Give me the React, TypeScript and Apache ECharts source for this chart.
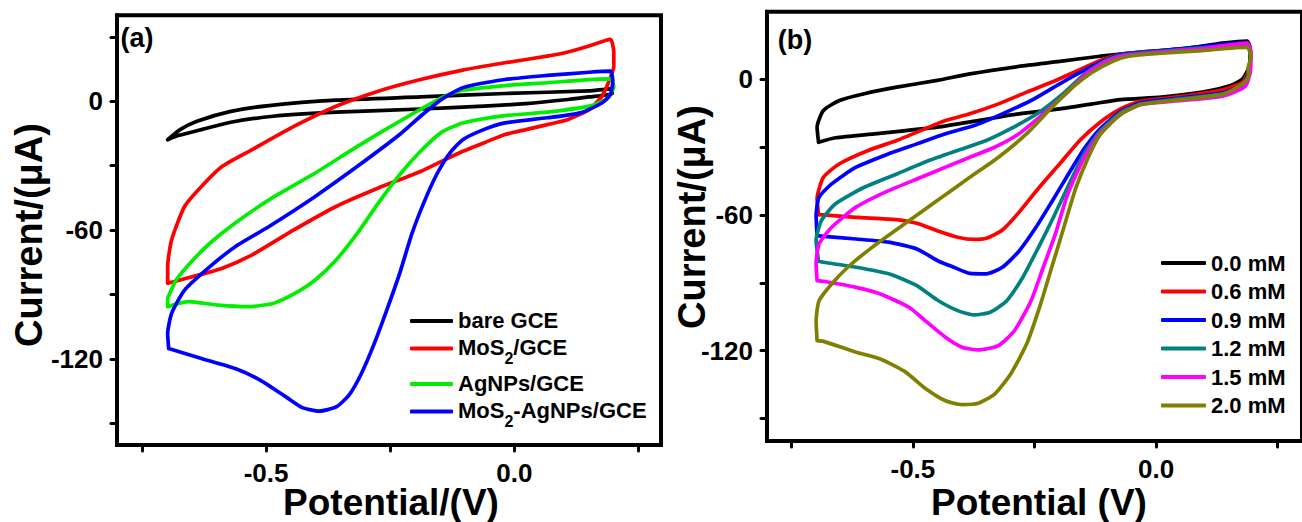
import React, { useEffect, useRef } from "react";
import * as echarts from "echarts";

type Pt = [number, number];

// ---------- Panel (a) data: potential (V), current (µA) ----------
const bareGCE: Pt[] = [
  [-0.698, -17.9], [-0.673, -13.2], [-0.639, -9.3], [-0.571, -4.7], [-0.494, -2.0],
  [-0.359, 0.5], [-0.189, 2.0], [-0.019, 3.6], [0.150, 4.8], [0.193, 5.8],
  [0.197, 3.6], [0.150, 2.0], [0.108, 0.8], [0.023, -1.1], [-0.062, -2.3],
  [-0.189, -3.6], [-0.359, -5.1], [-0.486, -7.0], [-0.571, -9.8], [-0.630, -13.2],
  [-0.681, -16.3], [-0.698, -17.9],
];
const mos2GCE: Pt[] = [
  [-0.698, -84.7], [-0.698, -77.0], [-0.690, -64.5], [-0.664, -49.0], [-0.630, -39.7],
  [-0.588, -30.3], [-0.528, -22.5], [-0.444, -11.7], [-0.359, -2.3], [-0.274, 4.7],
  [-0.189, 10.1], [-0.104, 14.5], [-0.019, 17.9], [0.066, 21.0], [0.108, 22.9],
  [0.150, 25.7], [0.193, 28.8], [0.200, 22.6], [0.200, 16.3], [0.189, 8.6],
  [0.176, 2.3], [0.150, -3.9], [0.108, -8.5], [0.066, -10.9], [0.023, -13.2],
  [-0.019, -15.5], [-0.062, -19.4], [-0.104, -23.3], [-0.147, -28.0], [-0.189, -32.7],
  [-0.274, -40.4], [-0.359, -49.0], [-0.444, -59.9], [-0.528, -71.5], [-0.588, -77.7],
  [-0.647, -81.6], [-0.698, -84.7],
];
const agnpsGCE: Pt[] = [
  [-0.698, -91.7], [-0.681, -83.2], [-0.647, -73.9], [-0.613, -66.1], [-0.562, -56.7],
  [-0.494, -45.9], [-0.401, -33.4], [-0.316, -21.0], [-0.231, -9.3], [-0.147, 1.6],
  [-0.104, 5.1], [-0.019, 7.3], [0.066, 8.6], [0.150, 10.1], [0.193, 10.4],
  [0.200, 6.7], [0.184, 0.8], [0.150, -2.3], [0.066, -5.1], [-0.019, -6.7],
  [-0.104, -10.1], [-0.147, -14.5], [-0.189, -23.3], [-0.231, -34.2], [-0.274, -47.4],
  [-0.316, -61.4], [-0.359, -73.9], [-0.401, -83.2], [-0.444, -89.7], [-0.486, -94.1],
  [-0.537, -95.6], [-0.596, -94.9], [-0.656, -93.3], [-0.698, -95.6], [-0.698, -91.7],
];
const mos2AgnpsGCE: Pt[] = [
  [-0.696, -115.1], [-0.698, -108.1], [-0.690, -98.7], [-0.664, -87.9], [-0.613, -77.0],
  [-0.562, -67.7], [-0.494, -58.3], [-0.401, -44.3], [-0.316, -30.3], [-0.231, -15.5],
  [-0.189, -7.0], [-0.147, 0.8], [-0.104, 6.3], [-0.019, 10.1], [0.066, 12.0],
  [0.150, 13.5], [0.193, 14.0], [0.198, 9.3], [0.193, 3.1], [0.176, -0.8],
  [0.133, -5.4], [0.066, -7.7], [-0.019, -10.1], [-0.062, -13.2], [-0.104, -17.9],
  [-0.130, -24.1], [-0.155, -33.4], [-0.180, -45.9], [-0.206, -61.4], [-0.231, -80.1],
  [-0.257, -97.2], [-0.282, -112.7], [-0.308, -126.7], [-0.333, -136.8], [-0.359, -142.3],
  [-0.393, -144.2], [-0.427, -142.6], [-0.460, -137.6], [-0.512, -129.8], [-0.562, -124.4],
  [-0.630, -119.7], [-0.696, -115.1],
];

// ---------- Panel (b) data ----------
const mM00: Pt[] = [
  [-0.694, -27.8], [-0.697, -21.1], [-0.684, -13.7], [-0.651, -9.3], [-0.600, -6.3],
  [-0.533, -3.4], [-0.450, -0.4], [-0.383, 2.5], [-0.282, 5.8], [-0.198, 8.0],
  [-0.115, 10.3], [-0.031, 12.1], [0.053, 13.6], [0.137, 16.1], [0.187, 17.0],
  [0.194, 12.8], [0.191, 5.5], [0.178, 0.3], [0.153, -2.7], [0.095, -5.6],
  [0.011, -7.8], [-0.073, -8.9], [-0.131, -10.8], [-0.198, -13.0], [-0.282, -15.2],
  [-0.366, -18.2], [-0.450, -21.1], [-0.575, -24.0], [-0.659, -25.8], [-0.694, -27.8],
];
const mM06: Pt[] = [
  [-0.694, -59.8], [-0.697, -52.8], [-0.684, -43.3], [-0.651, -37.3], [-0.592, -31.4],
  [-0.533, -27.0], [-0.467, -21.1], [-0.433, -18.2], [-0.383, -15.2], [-0.324, -10.8],
  [-0.266, -5.6], [-0.215, -1.2], [-0.157, 4.3], [-0.115, 8.4], [-0.073, 11.1],
  [0.011, 12.8], [0.095, 14.3], [0.187, 16.1], [0.194, 11.4], [0.191, 4.7],
  [0.178, -1.2], [0.137, -4.6], [0.053, -7.5], [-0.031, -9.6], [-0.073, -13.0],
  [-0.115, -18.9], [-0.157, -27.0], [-0.198, -37.3], [-0.240, -47.7], [-0.282, -58.8],
  [-0.316, -66.6], [-0.349, -70.3], [-0.374, -70.8], [-0.408, -69.8], [-0.450, -66.9],
  [-0.492, -63.6], [-0.533, -62.0], [-0.617, -61.0], [-0.684, -59.9], [-0.694, -59.8],
];
const mM09: Pt[] = [
  [-0.697, -69.1], [-0.699, -60.2], [-0.693, -52.1], [-0.667, -46.2], [-0.617, -38.8],
  [-0.550, -32.9], [-0.492, -28.5], [-0.433, -24.0], [-0.374, -20.4], [-0.316, -15.2],
  [-0.257, -9.3], [-0.198, -1.9], [-0.148, 4.0], [-0.106, 8.4], [-0.073, 11.1],
  [0.011, 12.8], [0.095, 14.6], [0.187, 16.3], [0.194, 10.6], [0.191, 3.2],
  [0.178, -2.2], [0.137, -5.9], [0.053, -8.1], [-0.031, -10.3], [-0.073, -14.2],
  [-0.115, -21.8], [-0.148, -30.7], [-0.182, -42.5], [-0.215, -54.3], [-0.249, -66.1],
  [-0.282, -76.0], [-0.316, -83.1], [-0.349, -86.0], [-0.383, -85.8], [-0.416, -83.1],
  [-0.450, -80.1], [-0.492, -75.0], [-0.550, -72.0], [-0.617, -70.6], [-0.684, -69.4],
  [-0.697, -69.1],
];
const mM12: Pt[] = [
  [-0.694, -80.4], [-0.699, -71.3], [-0.688, -62.4], [-0.659, -55.0], [-0.600, -47.7],
  [-0.533, -41.8], [-0.467, -35.9], [-0.408, -31.4], [-0.349, -27.0], [-0.299, -21.8],
  [-0.240, -14.5], [-0.190, -6.1], [-0.148, 2.2], [-0.106, 8.1], [-0.073, 10.6],
  [0.011, 12.5], [0.095, 14.0], [0.187, 15.5], [0.194, 10.6], [0.191, 2.8],
  [0.178, -3.1], [0.137, -6.3], [0.053, -8.5], [-0.031, -10.8], [-0.073, -14.7],
  [-0.115, -22.9], [-0.148, -32.9], [-0.182, -47.7], [-0.211, -61.0], [-0.240, -73.5],
  [-0.274, -87.5], [-0.307, -97.9], [-0.341, -103.0], [-0.374, -104.2], [-0.408, -102.3],
  [-0.450, -97.6], [-0.492, -91.2], [-0.550, -86.0], [-0.617, -83.1], [-0.684, -80.9],
  [-0.694, -80.4],
];
const mM15: Pt[] = [
  [-0.697, -89.0], [-0.699, -81.6], [-0.693, -72.8], [-0.667, -65.4], [-0.617, -56.5],
  [-0.550, -49.2], [-0.483, -43.3], [-0.433, -38.8], [-0.383, -34.4], [-0.332, -30.0],
  [-0.282, -24.0], [-0.232, -15.2], [-0.182, -5.6], [-0.140, 3.2], [-0.098, 8.4],
  [-0.064, 10.6], [0.011, 12.1], [0.095, 13.6], [0.187, 16.1], [0.195, 11.4],
  [0.194, 3.7], [0.183, -3.1], [0.137, -7.4], [0.053, -9.3], [-0.031, -11.1],
  [-0.073, -15.5], [-0.115, -23.8], [-0.148, -34.7], [-0.182, -50.9], [-0.207, -68.3],
  [-0.232, -83.1], [-0.257, -97.9], [-0.291, -111.1], [-0.324, -117.8], [-0.366, -119.7],
  [-0.399, -118.5], [-0.433, -114.1], [-0.475, -106.7], [-0.508, -100.8], [-0.567, -94.9],
  [-0.617, -92.0], [-0.684, -89.3], [-0.697, -89.0],
];
const mM20: Pt[] = [
  [-0.697, -115.6], [-0.699, -107.0], [-0.693, -97.9], [-0.667, -90.5], [-0.634, -83.1],
  [-0.584, -74.3], [-0.517, -63.9], [-0.450, -53.6], [-0.383, -43.3], [-0.324, -34.4],
  [-0.266, -24.0], [-0.215, -12.5], [-0.173, -3.7], [-0.131, 3.2], [-0.089, 8.1],
  [-0.056, 10.3], [0.011, 11.6], [0.095, 12.8], [0.187, 14.3], [0.195, 9.9],
  [0.189, 4.7], [0.191, 1.8], [0.178, -1.9], [0.137, -6.6], [0.053, -8.9],
  [-0.031, -11.1], [-0.073, -15.5], [-0.115, -24.4], [-0.140, -34.7], [-0.165, -48.0],
  [-0.190, -65.7], [-0.215, -83.4], [-0.240, -101.1], [-0.266, -117.0], [-0.299, -130.3],
  [-0.332, -139.2], [-0.366, -143.3], [-0.399, -143.9], [-0.433, -142.2], [-0.475, -136.6],
  [-0.517, -129.2], [-0.567, -123.7], [-0.617, -120.7], [-0.684, -115.9], [-0.697, -115.6],
];

const seriesNamesA = ["bare GCE", "MoS2/GCE", "AgNPs/GCE", "MoS2-AgNPs/GCE"];
const seriesDataA = [bareGCE, mos2GCE, agnpsGCE, mos2AgnpsGCE];
const seriesNamesB = ["0.0 mM", "0.6 mM", "0.9 mM", "1.2 mM", "1.5 mM", "2.0 mM"];
const seriesDataB = [mM00, mM06, mM09, mM12, mM15, mM20];

const xTickValues = [-0.75, -0.5, -0.25, 0, 0.25];
const xLabelValues = [-0.5, 0];
const yTickValuesA = [30, 0, -30, -60, -90, -120, -150];
const yTickValuesB = [0, -30, -60, -90, -120, -150];
const yLabelValues = [0, -60, -120];

const colorsA = ["#000000", "#ff0000", "#00ee00", "#0000ff"];
const colorsB = ["#000000", "#ff0000", "#0000ff", "#008080", "#ff00ff", "#808000"];

const FONT = '"Liberation Sans", Arial, Helvetica, sans-serif';

function xAxisCfg(gridIndex: number, max: number) {
  return {
    type: "value",
    gridIndex,
    min: -0.8,
    max,
    position: "bottom",
    axisLine: { show: true, onZero: false, lineStyle: { color: "#000", width: 4 } },
    axisTick: {
      show: true,
      inside: false,
      length: 6,
      lineStyle: { color: "#000", width: 3, cap: "round" },
      customValues: xTickValues,
    },
    axisLabel: {
      show: true,
      customValues: xLabelValues,
      margin: 15,
      color: "#000",
      fontSize: 26,
      fontWeight: "bold",
      fontFamily: FONT,
      formatter: (v: number) => v.toFixed(1),
    },
    splitLine: { show: false },
  };
}

function yAxisCfg(gridIndex: number, min: number, max: number, ticks: number[]) {
  return {
    type: "value",
    gridIndex,
    min,
    max,
    position: "left",
    axisLine: { show: true, onZero: false, lineStyle: { color: "#000", width: 4 } },
    axisTick: {
      show: true,
      inside: false,
      length: 6,
      lineStyle: { color: "#000", width: 3, cap: "round" },
      customValues: ticks,
    },
    axisLabel: {
      show: true,
      customValues: yLabelValues,
      margin: 14,
      color: "#000",
      fontSize: 26,
      fontWeight: "bold",
      fontFamily: FONT,
      formatter: (v: number) => String(Math.round(v)),
    },
    splitLine: { show: false },
  };
}

function legendFormatter(name: string) {
  if (name.startsWith("MoS2")) {
    return "{n|MoS}{s|2}{n|" + name.slice(4) + "}";
  }
  return "{n|" + name + "}";
}

const legendRich = {
  n: { fontSize: 22, fontWeight: "bold", fontFamily: FONT, color: "#000", lineHeight: 24, verticalAlign: "top" },
  s: { fontSize: 16, fontWeight: "bold", fontFamily: FONT, color: "#000", lineHeight: 12, padding: [14, 0, 0, 0], verticalAlign: "top" },
};

export default function App() {
  const ref = useRef<HTMLDivElement>(null);

  useEffect(() => {
    if (!ref.current) return;
    const chart = echarts.init(ref.current, undefined, { renderer: "svg" });

    const series: any[] = [];
    seriesNamesA.forEach((name, i) => {
      series.push({
        type: "line",
        name,
        xAxisIndex: 0,
        yAxisIndex: 0,
        data: seriesDataA[i],
        smooth: 0.2,
        showSymbol: false,
        symbol: "none",
        lineStyle: { color: colorsA[i], width: 3.7, join: "round", cap: "round" },
        itemStyle: { color: colorsA[i] },
        z: 2 + i,
      });
    });
    seriesNamesB.forEach((name, i) => {
      series.push({
        type: "line",
        name,
        xAxisIndex: 1,
        yAxisIndex: 1,
        data: seriesDataB[i],
        smooth: 0.2,
        showSymbol: false,
        symbol: "none",
        lineStyle: { color: colorsB[i], width: 3.7, join: "round", cap: "round" },
        itemStyle: { color: colorsB[i] },
        z: 2 + i,
      });
    });

    chart.setOption({
      animation: false,
      backgroundColor: "#ffffff",
      grid: [
        { left: 117, top: 15.3, width: 544, height: 429.7, show: true, borderColor: "#000", borderWidth: 4, backgroundColor: "transparent" },
        { left: 767, top: 11.7, width: 546, height: 429.3, show: true, borderColor: "#000", borderWidth: 4, backgroundColor: "transparent" },
      ],
      xAxis: [xAxisCfg(0, 0.295), xAxisCfg(1, 0.3)],
      yAxis: [yAxisCfg(0, -160, 40, yTickValuesA), yAxisCfg(1, -160, 30, yTickValuesB)],
      legend: [
        {
          data: seriesNamesA,
          orient: "vertical",
          left: 405,
          top: 304,
          icon: "roundRect",
          itemWidth: 43,
          itemHeight: 4,
          itemGap: 5.5,
          formatter: legendFormatter,
          textStyle: { fontSize: 22, fontWeight: "bold", fontFamily: FONT, color: "#000", rich: legendRich },
          selectedMode: false,
        },
        {
          data: seriesNamesB,
          orient: "vertical",
          left: 1156,
          top: 246,
          icon: "roundRect",
          itemWidth: 45,
          itemHeight: 4,
          itemGap: 4.5,
          textStyle: { fontSize: 22, fontWeight: "bold", fontFamily: FONT, color: "#000", lineHeight: 24 },
          selectedMode: false,
        },
      ],
      graphic: [
        { type: "text", x: 137, y: 37.6, style: { text: "(a)", fill: "#000", fontSize: 27, fontWeight: "bold", fontFamily: FONT, align: "center", verticalAlign: "middle" } },
        { type: "text", x: 795, y: 40, style: { text: "(b)", fill: "#000", fontSize: 27, fontWeight: "bold", fontFamily: FONT, align: "center", verticalAlign: "middle" } },
        { type: "text", x: 29, y: 235, rotation: Math.PI / 2, style: { text: "Current/(μA)", fill: "#000", fontSize: 38, fontWeight: "bold", fontFamily: FONT, align: "center", verticalAlign: "middle" } },
        { type: "text", x: 691.5, y: 217, rotation: Math.PI / 2, style: { text: "Current/(μA)", fill: "#000", fontSize: 38, fontWeight: "bold", fontFamily: FONT, align: "center", verticalAlign: "middle" } },
        { type: "text", x: 391, y: 502, style: { text: "Potential/(V)", fill: "#000", fontSize: 37, fontWeight: "bold", fontFamily: FONT, align: "center", verticalAlign: "middle" } },
        { type: "text", x: 1039, y: 502, style: { text: "Potential (V)", fill: "#000", fontSize: 37, fontWeight: "bold", fontFamily: FONT, align: "center", verticalAlign: "middle" } },
      ],
      series,
    });

    return () => chart.dispose();
  }, []);

  return (
    <div
      ref={ref}
      style={{ position: "absolute", left: 0, top: 0, width: 1302, height: 522, background: "#fff" }}
    />
  );
}
